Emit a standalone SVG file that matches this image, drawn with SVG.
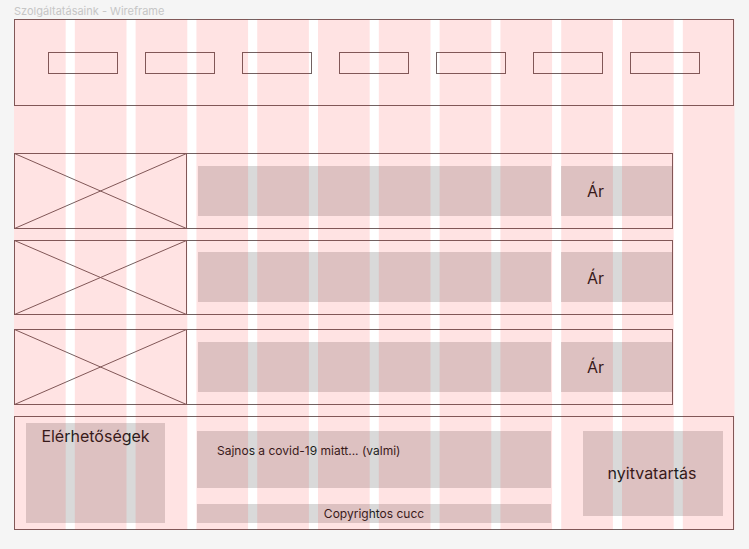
<svg xmlns="http://www.w3.org/2000/svg" width="749" height="549" viewBox="0 0 749 549">
<style>
.ln{fill:none;stroke:#726262;stroke-width:1}
.box{fill:#d9d9d9}
.col{fill:#ff0000;fill-opacity:0.11}
.t{font-family:Inter,"Liberation Sans",sans-serif;fill:#1e1e1e}
</style>
<rect x="0" y="0" width="749" height="549" fill="#f5f5f5"/>
<text x="14" y="15" class="t" style="fill:#c6c6c6;font-size:11px">Szolgáltatásaink - Wireframe</text>
<rect x="14" y="19" width="720.5" height="511" fill="#ffffff"/>

<g id="header">
<rect class="ln" x="14.5" y="19.5" width="719" height="86"/>
<rect class="ln" x="48.5" y="52.5" width="69" height="21"/>
<rect class="ln" x="145.5" y="52.5" width="69" height="21"/>
<rect class="ln" x="242.5" y="52.5" width="69" height="21"/>
<rect class="ln" x="339.5" y="52.5" width="69" height="21"/>
<rect class="ln" x="436.5" y="52.5" width="69" height="21"/>
<rect class="ln" x="533.5" y="52.5" width="69" height="21"/>
<rect class="ln" x="630.5" y="52.5" width="69" height="21"/>
</g>

<g id="row1">
<rect class="ln" x="14.5" y="153.5" width="658" height="75"/>
<rect class="ln" x="14.5" y="153.5" width="172" height="75"/>
<path class="ln" d="M14.5 153.5L186.5 228.5M14.5 228.5L186.5 153.5"/>
<rect class="box" x="198" y="166" width="353" height="50"/>
<rect class="box" x="561" y="166" width="111" height="50"/>
<text class="t" x="587" y="197" style="font-size:16px">Ár</text>
</g>
<g id="row2">
<rect class="ln" x="14.5" y="240.5" width="658" height="74"/>
<rect class="ln" x="14.5" y="240.5" width="172" height="74"/>
<path class="ln" d="M14.5 240.5L186.5 314.5M14.5 314.5L186.5 240.5"/>
<rect class="box" x="198" y="252" width="353" height="50"/>
<rect class="box" x="561" y="252" width="111" height="50"/>
<text class="t" x="587" y="284" style="font-size:16px">Ár</text>
</g>
<g id="row3">
<rect class="ln" x="14.5" y="329.5" width="658" height="75"/>
<rect class="ln" x="14.5" y="329.5" width="172" height="75"/>
<path class="ln" d="M14.5 329.5L186.5 404.5M14.5 404.5L186.5 329.5"/>
<rect class="box" x="198" y="342" width="353" height="50"/>
<rect class="box" x="561" y="342" width="111" height="50"/>
<text class="t" x="587" y="373" style="font-size:16px">Ár</text>
</g>

<g id="footer">
<rect class="ln" x="14.5" y="416.5" width="719" height="113"/>
<rect class="box" x="26" y="423" width="139" height="100"/>
<text class="t" x="95.5" y="442" text-anchor="middle" style="font-size:16px">Elérhetőségek</text>
<rect class="box" x="197" y="431" width="354" height="57"/>
<text class="t" x="217" y="455" style="font-size:12px">Sajnos a covid-19 miatt... (valmi)</text>
<rect class="box" x="197" y="504" width="354" height="19"/>
<text class="t" x="374" y="518" text-anchor="middle" style="font-size:12px">Copyrightos cucc</text>
<rect class="box" x="583" y="431" width="140" height="85"/>
<text class="t" x="652" y="479" text-anchor="middle" style="font-size:16px">nyitvatartás</text>
</g>

<g id="grid">
<rect class="col" x="14" y="19" width="51.7" height="511"/>
<rect class="col" x="74.8" y="19" width="51.7" height="511"/>
<rect class="col" x="135.6" y="19" width="51.7" height="511"/>
<rect class="col" x="196.4" y="19" width="51.7" height="511"/>
<rect class="col" x="257.2" y="19" width="51.7" height="511"/>
<rect class="col" x="318" y="19" width="51.7" height="511"/>
<rect class="col" x="378.8" y="19" width="51.7" height="511"/>
<rect class="col" x="439.6" y="19" width="51.7" height="511"/>
<rect class="col" x="500.4" y="19" width="51.7" height="511"/>
<rect class="col" x="561.2" y="19" width="51.7" height="511"/>
<rect class="col" x="622" y="19" width="51.7" height="511"/>
<rect class="col" x="682.8" y="19" width="51.7" height="511"/>
</g>
</svg>
